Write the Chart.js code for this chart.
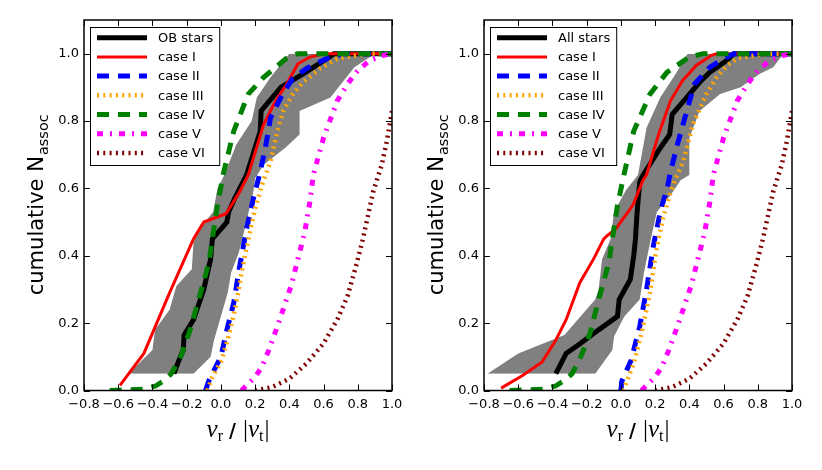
<!DOCTYPE html>
<html>
<head>
<meta charset="utf-8">
<title>cumulative N_assoc vs v_r/|v_t|</title>
<script src="https://cdn.jsdelivr.net/npm/chart.js@4.4.1/dist/chart.umd.min.js"></script>
<style>
  html, body { margin: 0; padding: 0; background: #fff; }
  #wrap { position: relative; width: 822px; height: 470px; overflow: hidden; }
  canvas { position: absolute; top: 0; }
</style>
</head>
<body>
<div id="wrap">
  <canvas id="chartOB" width="411" height="470" style="left:0"></canvas>
  <canvas id="chartAll" width="411" height="470" style="left:400px"></canvas>
</div>
<script>
// Values, as [v_r/|v_t|, cumulative fraction] pairs.

const xTickValues = [-0.8, -0.6, -0.4, -0.2, 0.0, 0.2, 0.4, 0.6, 0.8, 1.0];
const yTickValues = [0.0, 0.2, 0.4, 0.6, 0.8, 1.0];
const caseLabels = ['case I', 'case II', 'case III', 'case IV', 'case V', 'case VI'];

// left panel: OB stars
const obStars = [[-0.275,0.05],[-0.245,0.09],[-0.22,0.12],[-0.215,0.165],[-0.16,0.21],[-0.10,0.30],[-0.06,0.39],[-0.05,0.45],[0.035,0.50],[0.045,0.53],[0.08,0.57],[0.15,0.64],[0.23,0.77],[0.235,0.83],[0.35,0.90],[0.48,0.94],[0.62,0.985],[0.66,1.0],[1.0,1.0]];
const caseI_OB = [[-0.59,0.015],[-0.45,0.11],[-0.30,0.29],[-0.16,0.45],[-0.10,0.50],[0.03,0.525],[0.11,0.59],[0.16,0.64],[0.25,0.79],[0.32,0.86],[0.385,0.91],[0.45,0.97],[0.52,0.99],[0.60,1.0],[1.0,1.0]];
const caseII_OB = [[-0.09,0.0],[-0.07,0.03],[0.0,0.10],[0.035,0.18],[0.075,0.26],[0.11,0.37],[0.15,0.48],[0.19,0.57],[0.23,0.65],[0.26,0.72],[0.29,0.81],[0.36,0.88],[0.42,0.926],[0.50,0.956],[0.62,0.986],[0.72,1.0],[1.0,1.0]];
const caseIII_OB = [[-0.08,0.0],[-0.05,0.04],[0.005,0.09],[0.05,0.17],[0.09,0.26],[0.125,0.36],[0.165,0.46],[0.20,0.54],[0.24,0.61],[0.29,0.68],[0.33,0.77],[0.365,0.83],[0.42,0.88],[0.48,0.915],[0.58,0.956],[0.68,0.985],[0.85,1.0],[1.0,1.0]];
const caseIV_OB = [[-0.65,0.0],[-0.45,0.004],[-0.38,0.014],[-0.33,0.03],[-0.29,0.05],[-0.235,0.10],[-0.18,0.18],[-0.13,0.27],[-0.07,0.38],[-0.05,0.45],[-0.02,0.55],[0.015,0.645],[0.075,0.77],[0.16,0.88],[0.25,0.93],[0.38,0.985],[0.45,1.0],[1.0,1.0]];
const bandOBMin = [[-0.54,0.05],[-0.40,0.12],[-0.385,0.18],[-0.30,0.24],[-0.26,0.31],[-0.17,0.36],[-0.16,0.44],[-0.11,0.49],[-0.045,0.53],[-0.02,0.60],[0.02,0.64],[0.09,0.73],[0.18,0.80],[0.21,0.87],[0.29,0.93],[0.40,1.0]];
const bandOBMax = [[-0.16,0.05],[-0.06,0.10],[-0.04,0.15],[0.04,0.29],[0.06,0.35],[0.105,0.41],[0.125,0.45],[0.19,0.59],[0.20,0.63],[0.25,0.67],[0.375,0.72],[0.46,0.76],[0.46,0.83],[0.64,0.87],[0.78,0.96],[0.90,1.0]];

// right panel: all stars
const allStars = [[-0.38,0.05],[-0.32,0.11],[-0.235,0.14],[-0.13,0.18],[-0.02,0.22],[-0.01,0.27],[0.055,0.33],[0.075,0.40],[0.085,0.45],[0.095,0.53],[0.11,0.62],[0.13,0.64],[0.23,0.72],[0.285,0.76],[0.30,0.82],[0.385,0.87],[0.46,0.915],[0.52,0.945],[0.62,0.98],[0.66,1.0],[1.0,1.0]];
const caseI_All = [[-0.70,0.007],[-0.57,0.046],[-0.46,0.085],[-0.38,0.15],[-0.32,0.21],[-0.24,0.32],[-0.16,0.39],[-0.10,0.45],[-0.08,0.46],[-0.03,0.48],[0.07,0.55],[0.13,0.625],[0.15,0.64],[0.22,0.76],[0.29,0.86],[0.36,0.92],[0.44,0.965],[0.53,0.995],[0.56,1.0],[1.0,1.0]];
const caseII_All = [[0.0,0.0],[0.005,0.027],[0.06,0.09],[0.11,0.19],[0.15,0.30],[0.19,0.43],[0.23,0.53],[0.27,0.60],[0.29,0.65],[0.33,0.73],[0.385,0.83],[0.43,0.91],[0.52,0.96],[0.60,0.985],[0.66,1.0],[1.0,1.0]];
const caseIII_All = [[0.01,0.0],[0.025,0.015],[0.075,0.08],[0.125,0.18],[0.17,0.29],[0.205,0.41],[0.245,0.51],[0.285,0.58],[0.32,0.63],[0.365,0.68],[0.42,0.79],[0.50,0.88],[0.56,0.93],[0.62,0.965],[0.68,0.986],[0.85,1.0],[1.0,1.0]];
const caseIV_All = [[-0.65,0.0],[-0.45,0.004],[-0.38,0.014],[-0.33,0.03],[-0.285,0.05],[-0.235,0.10],[-0.18,0.17],[-0.13,0.27],[-0.07,0.38],[-0.05,0.45],[-0.02,0.55],[0.02,0.645],[0.075,0.77],[0.17,0.88],[0.27,0.945],[0.40,0.99],[0.48,1.0],[1.0,1.0]];
const bandAllMin = [[-0.78,0.05],[-0.60,0.11],[-0.33,0.165],[-0.15,0.27],[-0.13,0.30],[-0.11,0.39],[-0.06,0.45],[-0.04,0.53],[0.03,0.595],[0.10,0.64],[0.15,0.78],[0.23,0.87],[0.32,0.94],[0.39,1.0]];
const bandAllMax = [[-0.15,0.05],[-0.05,0.12],[-0.04,0.16],[0.02,0.22],[0.11,0.27],[0.135,0.35],[0.175,0.45],[0.21,0.53],[0.29,0.58],[0.35,0.625],[0.40,0.64],[0.40,0.75],[0.46,0.83],[0.58,0.88],[0.70,0.90],[0.81,0.94],[0.89,0.96],[0.95,1.0]];

// same in both panels
const caseV = [[0.12,0.0],[0.14,0.01],[0.20,0.04],[0.24,0.07],[0.28,0.12],[0.33,0.19],[0.37,0.25],[0.41,0.31],[0.45,0.39],[0.49,0.47],[0.52,0.56],[0.54,0.64],[0.60,0.75],[0.68,0.86],[0.74,0.91],[0.80,0.95],[0.87,0.98],[0.95,0.995],[1.0,1.0]];
const caseVI = [[0.20,0.0],[0.30,0.01],[0.40,0.035],[0.50,0.08],[0.60,0.14],[0.68,0.21],[0.74,0.28],[0.79,0.37],[0.83,0.45],[0.86,0.52],[0.89,0.59],[0.94,0.67],[0.97,0.74],[1.0,0.83]];

// line styles, in legend order
const lineStyles = [
    { color: '#000000', width: 5,   dash: [] },
    { color: '#ff0000', width: 3,   dash: [] },
    { color: '#0000ff', width: 5,   dash: [12, 9] },
    { color: '#ffa500', width: 4.5, dash: [2, 4.3] },
    { color: '#008000', width: 5,   dash: [12, 9] },
    { color: '#ff00ff', width: 5,   dash: [6, 7, 2, 7] },
    { color: '#800000', width: 4.5, dash: [2, 4.3] }
];

const toXY = pts => pts.map(([x, y]) => ({ x, y }));
const fmtTick = v => Math.abs(v) < 1e-9 ? '0.0' : v.toFixed(1).replace('-', '\u2212');

function buildDatasets(starLabel, curves, bandMin, bandMax) {
    const labels = [starLabel].concat(caseLabels);
    const lines = curves.map((pts, i) => ({
        label: labels[i],
        data: toXY(pts),
        borderColor: lineStyles[i].color,
        borderWidth: lineStyles[i].width,
        borderDash: lineStyles[i].dash,
        borderCapStyle: 'butt',
        fill: false,
        order: 7 - i
    }));
    // grey spread: filled between the lower and upper x-bounds, indexed on y
    const band = [
        { label: '', data: toXY(bandMax), indexAxis: 'y', borderColor: 'rgba(0,0,0,0)', borderWidth: 1,
          backgroundColor: '#808080', fill: '+1', order: 20 },
        { label: '', data: toXY(bandMin), indexAxis: 'y', borderColor: 'rgba(0,0,0,0)', borderWidth: 1,
          fill: false, order: 19 }
    ];
    return band.concat(lines);
}

const legendBox = {
    id: 'legendBox',
    afterDatasetsDraw(chart) {
        const { ctx, chartArea: a } = chart;
        const items = chart.data.datasets.filter(d => d.label);
        ctx.save();
        ctx.font = '13px "DejaVu Sans"';
        const textW = Math.max(...items.map(d => ctx.measureText(d.label).width));
        const x0 = a.left + 6, y0 = a.top + 7;
        const w = 68 + textW + 6, h = 138;
        ctx.fillStyle = '#fff';
        ctx.fillRect(x0, y0, w, h);
        ctx.strokeStyle = '#000';
        ctx.lineWidth = 1;
        ctx.strokeRect(x0 + 0.5, y0 + 0.5, w, h);
        items.forEach((d, i) => {
            const ly = y0 + 10.7 + i * 19.2;
            ctx.beginPath();
            ctx.setLineDash(d.borderDash || []);
            ctx.lineDashOffset = 0;
            ctx.lineCap = 'butt';
            ctx.strokeStyle = d.borderColor;
            ctx.lineWidth = d.borderWidth;
            ctx.moveTo(x0 + 7, ly);
            ctx.lineTo(x0 + 57, ly);
            ctx.stroke();
            ctx.setLineDash([]);
            ctx.fillStyle = '#000';
            ctx.textAlign = 'left';
            ctx.textBaseline = 'middle';
            ctx.fillText(d.label, x0 + 68, ly + 1);
        });
        ctx.restore();
    }
};

const framePlugin = {
    id: 'frame',
    afterDraw(chart) {
        const { ctx, chartArea: a, scales: { x, y } } = chart;
        ctx.save();
        // inward ticks on all four sides
        ctx.strokeStyle = '#000';
        ctx.lineWidth = 1;
        ctx.beginPath();
        x.ticks.forEach(t => {
            const px = Math.round(x.getPixelForValue(t.value)) + 0.5;
            ctx.moveTo(px, a.bottom); ctx.lineTo(px, a.bottom - 6);
            ctx.moveTo(px, a.top); ctx.lineTo(px, a.top + 6);
        });
        y.ticks.forEach(t => {
            const py = Math.round(y.getPixelForValue(t.value)) + 0.5;
            ctx.moveTo(a.left, py); ctx.lineTo(a.left + 6, py);
            ctx.moveTo(a.right, py); ctx.lineTo(a.right - 6, py);
        });
        ctx.stroke();
        ctx.lineWidth = 1.5;
        ctx.strokeRect(a.left, a.top, a.right - a.left, a.bottom - a.top);

        // y title: cumulative N_assoc
        ctx.save();
        ctx.translate(a.left - 41, (a.top + a.bottom) / 2);
        ctx.rotate(-Math.PI / 2);
        ctx.fillStyle = '#000';
        ctx.textAlign = 'left';
        ctx.textBaseline = 'alphabetic';
        ctx.font = '21px "DejaVu Sans"';
        const main = 'cumulative N';
        const w1 = ctx.measureText(main).width;
        ctx.font = '14.5px "DejaVu Sans"';
        const w2 = ctx.measureText('assoc').width;
        const sx = -(w1 + w2) / 2;
        ctx.font = '21px "DejaVu Sans"';
        ctx.fillText(main, sx, 0);
        ctx.font = '14.5px "DejaVu Sans"';
        ctx.fillText('assoc', sx + w1 + 1, 5);
        ctx.restore();

        // x title: v_r / |v_t|
        const it = 'italic 25px "Liberation Serif"', bar = '25px "Liberation Serif"',
              small = '16px "Liberation Serif"', slash = 'bold 19px "DejaVu Sans"';
        const parts = [
            { t: 'v', f: it, dy: 0, gap: 0 }, { t: 'r', f: small, dy: 4, gap: 6 },
            { t: '/', f: slash, dy: 0, gap: 7 },
            { t: '|', f: bar, dy: 0, gap: 0 },
            { t: 'v', f: it, dy: 0, gap: 0 }, { t: 't', f: small, dy: 4, gap: 1 },
            { t: '|', f: bar, dy: 0, gap: 0 }
        ];
        let total = 0;
        parts.forEach(p => { ctx.font = p.f; p.w = ctx.measureText(p.t).width; total += p.w + p.gap; });
        let cx = (a.left + a.right) / 2 - total / 2;
        const base = a.bottom + 46;
        ctx.fillStyle = '#000';
        ctx.textAlign = 'left';
        ctx.textBaseline = 'alphabetic';
        parts.forEach(p => { ctx.font = p.f; ctx.fillText(p.t, cx, base + p.dy); cx += p.w + p.gap; });
        ctx.restore();
    }
};

function makePanel(canvasId, datasets) {
    return new Chart(document.getElementById(canvasId), {
        type: 'line',
        data: { datasets },
        options: {
            responsive: false,
            animation: false,
            layout: { padding: { top: 20, right: 19, left: 0, bottom: 0 } },
            plugins: { legend: { display: false }, tooltip: { enabled: false } },
            elements: { point: { radius: 0 }, line: { tension: 0 } },
            scales: {
                x: {
                    type: 'linear', min: -0.8, max: 1.0,
                    grid: { display: false, drawTicks: false },
                    border: { display: false },
                    afterBuildTicks: s => { s.ticks = xTickValues.map(v => ({ value: v })); },
                    afterFit: s => { s.height = 79.5; },
                    ticks: {
                        autoSkip: false, maxRotation: 0, padding: 6, color: '#000',
                        font: { family: 'DejaVu Sans', size: 13 },
                        callback: v => fmtTick(v)
                    }
                },
                y: {
                    type: 'linear', min: 0, max: 1.1,
                    grid: { display: false, drawTicks: false },
                    border: { display: false },
                    afterBuildTicks: s => { s.ticks = yTickValues.map(v => ({ value: v })); },
                    afterFit: s => { s.width = 84; },
                    ticks: {
                        padding: 5, color: '#000',
                        font: { family: 'DejaVu Sans', size: 13 },
                        callback: v => fmtTick(v)
                    }
                }
            }
        },
        plugins: [legendBox, framePlugin]
    });
}

makePanel('chartOB', buildDatasets('OB stars',
    [obStars, caseI_OB, caseII_OB, caseIII_OB, caseIV_OB, caseV, caseVI], bandOBMin, bandOBMax));
makePanel('chartAll', buildDatasets('All stars',
    [allStars, caseI_All, caseII_All, caseIII_All, caseIV_All, caseV, caseVI], bandAllMin, bandAllMax));
</script>
</body>
</html>
